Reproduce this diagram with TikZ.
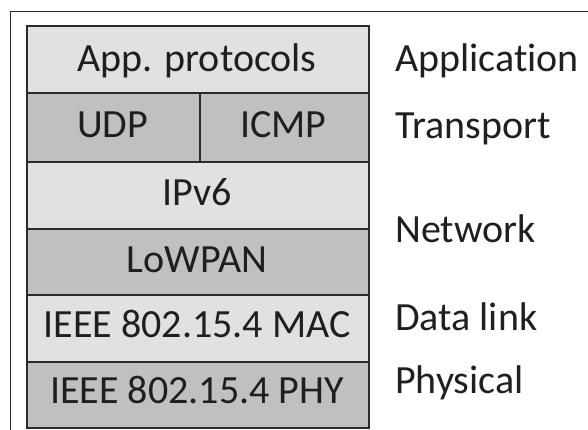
\documentclass[tikz,border=0pt]{standalone}
\usepackage{fontspec}
\setmainfont{Carlito}[Ligatures=NoCommon]
\definecolor{layerlight}{HTML}{E0E1E3}
\definecolor{layerdark}{HTML}{C0C0C0}
\definecolor{edgegray}{HTML}{2B2B2B}
\begin{document}
\begin{tikzpicture}[x=1pt,y=-1pt,
  layer/.style={draw=edgegray, line width=1.6pt, rectangle, inner sep=0pt, anchor=north west},
  lite/.style={layer, fill=layerlight},
  darkl/.style={layer, fill=layerdark},
  txt/.style={font=\fontsize{40}{48}\selectfont, anchor=base, inner sep=0pt, text=black!88},
  side/.style={txt, anchor=base west}]
\useasboundingbox (0,0) rectangle (588,430);
% outer frame (left and top edges)
\draw[line width=1pt, draw=edgegray] (10,430) -- (10,12) -- (588,12);

% protocol stack
\node[lite,  minimum width=342pt, minimum height=67pt] (app)    at (26,25)  {};
\node[darkl, minimum width=173pt, minimum height=69pt] (udp)    at (26,92)  {};
\node[darkl, minimum width=169pt, minimum height=69pt] (icmp)   at (199,92) {};
\node[lite,  minimum width=342pt, minimum height=67pt] (ipv6)   at (26,161) {};
\node[darkl, minimum width=342pt, minimum height=66pt] (lowpan) at (26,228) {};
\node[lite,  minimum width=342pt, minimum height=67pt] (mac)    at (26,294) {};
\node[darkl, minimum width=342pt, minimum height=66pt] (phy)    at (26,361) {};

% layer contents
\node[txt] (tapp)    at (197,72)   {App. protocols};
\node[txt] (tudp)    at (112.5,138){UDP};
\node[txt] (ticmp)   at (283.5,138){ICMP};
\node[txt] (tipv6)   at (197,205)  {IPv6};
\node[txt] (tlowpan) at (197,272)  {LoWPAN};
\node[txt] (tmac)    at (197,337)  {IEEE 802.15.4 MAC};
\node[txt] (tphy)    at (197,403)  {IEEE 802.15.4 PHY};

% OSI layer names
\node[side] (lapp)  at (395,72)  {Application};
\node[side] (ltr)   at (395,139) {Transport};
\node[side] (lnet)  at (395,242) {Network};
\node[side] (ldl)   at (395,330) {Data link};
\node[side] (lphy)  at (395,393) {Physical};
\end{tikzpicture}
\end{document}
